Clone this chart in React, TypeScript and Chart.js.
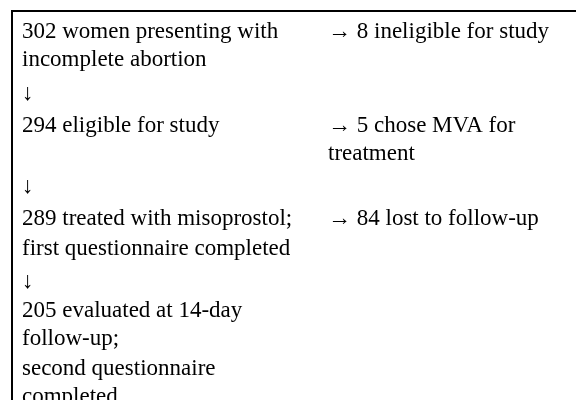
import React, { useEffect, useRef } from "react";
import { Chart, registerables } from "chart.js";

Chart.register(...registerables);

// ---- data ----
const stepCounts = [302, 294, 289, 205];
const stepTexts = [
  ["women presenting with incomplete abortion"],
  ["eligible for study"],
  ["treated with misoprostol;", "first questionnaire completed"],
  ["evaluated at 14-day follow-up;", "second questionnaire completed"],
];
const exclusionCounts = [8, 5, 84];
const exclusionTexts = ["ineligible for study", "chose MVA for treatment", "lost to follow-up"];
const DOWN_ARROW = "\u2193";
const RIGHT_ARROW = "\u2192";

// ---- layout / style ----
const W = 576;
const H = 400;
const FONT = '23px "Liberation Serif", "Times New Roman", serif';
const LEFT_X = 22;
const RIGHT_X = 328;
const LEFT_MAX = 284;
const RIGHT_MAX = 240;
const ROW_Y = [38, 132, 225, 317];
const ARROW_Y = [100, 193, 288];
const WRAP_STEP = 28;
const BREAK_STEP = 30;
const BOX_X = 11;
const BOX_Y = 10;
const BORDER = 2;

type TextPoint = { x: number; y: number; text: string };

function wrap(ctx: CanvasRenderingContext2D, text: string, max: number): string[] {
  const words = text.split(" ");
  const lines: string[] = [];
  let cur = "";
  for (const w of words) {
    const test = cur ? cur + " " + w : w;
    if (cur && ctx.measureText(test).width > max) {
      lines.push(cur);
      cur = w;
    } else {
      cur = test;
    }
  }
  if (cur) lines.push(cur);
  return lines;
}

function buildPoints(ctx: CanvasRenderingContext2D) {
  ctx.font = FONT;
  const left: TextPoint[] = [];
  const arrows: TextPoint[] = [];
  const right: TextPoint[] = [];
  stepCounts.forEach((count, i) => {
    let y = ROW_Y[i];
    stepTexts[i].forEach((para, j) => {
      const full = j === 0 ? `${count} ${para}` : para;
      if (j > 0) y += BREAK_STEP;
      wrap(ctx, full, LEFT_MAX).forEach((line, k) => {
        if (k > 0) y += WRAP_STEP;
        left.push({ x: LEFT_X, y, text: line });
      });
    });
    if (i < ARROW_Y.length) arrows.push({ x: LEFT_X, y: ARROW_Y[i], text: DOWN_ARROW });
  });
  exclusionCounts.forEach((count, i) => {
    let y = ROW_Y[i];
    wrap(ctx, `${RIGHT_ARROW} ${count} ${exclusionTexts[i]}`, RIGHT_MAX).forEach((line, k) => {
      if (k > 0) y += WRAP_STEP;
      right.push({ x: RIGHT_X, y, text: line });
    });
  });
  return { left, arrows, right };
}

const textPlugin = {
  id: "flowText",
  beforeDraw(chart: any) {
    const ctx = chart.ctx as CanvasRenderingContext2D;
    const xs = chart.scales.x;
    const ys = chart.scales.y;
    ctx.save();
    ctx.fillStyle = "#ffffff";
    ctx.fillRect(0, 0, chart.width, chart.height);
    ctx.fillStyle = "#000000";
    const x0 = xs.getPixelForValue(BOX_X);
    const y0 = ys.getPixelForValue(BOX_Y);
    const x1 = xs.getPixelForValue(W);
    const y1 = ys.getPixelForValue(H);
    ctx.fillRect(x0, y0, BORDER, y1 - y0);
    ctx.fillRect(x0, y0, x1 - x0, BORDER);
    ctx.restore();
  },
  afterDatasetsDraw(chart: any) {
    const ctx = chart.ctx as CanvasRenderingContext2D;
    ctx.save();
    ctx.font = FONT;
    ctx.fillStyle = "#000000";
    ctx.textAlign = "left";
    ctx.textBaseline = "alphabetic";
    chart.data.datasets.forEach((ds: any, di: number) => {
      const meta = chart.getDatasetMeta(di);
      meta.data.forEach((el: any, i: number) => {
        ctx.fillText(ds.data[i].text, el.x, el.y);
      });
    });
    ctx.restore();
  },
};

export default function App() {
  const ref = useRef<HTMLCanvasElement | null>(null);
  useEffect(() => {
    const canvas = ref.current;
    if (!canvas) return;
    const measure = document.createElement("canvas").getContext("2d")!;
    const { left, arrows, right } = buildPoints(measure);
    const chart = new Chart(canvas, {
      type: "scatter",
      data: {
        datasets: [
          { label: "steps", data: left as any, pointRadius: 0, pointHoverRadius: 0 },
          { label: "arrows", data: arrows as any, pointRadius: 0, pointHoverRadius: 0 },
          { label: "exclusions", data: right as any, pointRadius: 0, pointHoverRadius: 0 },
        ],
      },
      options: {
        animation: false,
        responsive: false,
        devicePixelRatio: 1,
        layout: { padding: 0 },
        scales: {
          x: { type: "linear", min: 0, max: W, display: false },
          y: { type: "linear", min: 0, max: H, reverse: true, display: false },
        },
        plugins: { legend: { display: false }, tooltip: { enabled: false } },
        events: [],
      },
      plugins: [textPlugin],
    });
    return () => chart.destroy();
  }, []);
  return (
    <div style={{ position: "fixed", left: 0, top: 0, width: W, height: H }}>
      <canvas ref={ref} width={W} height={H} style={{ display: "block" }} />
    </div>
  );
}
